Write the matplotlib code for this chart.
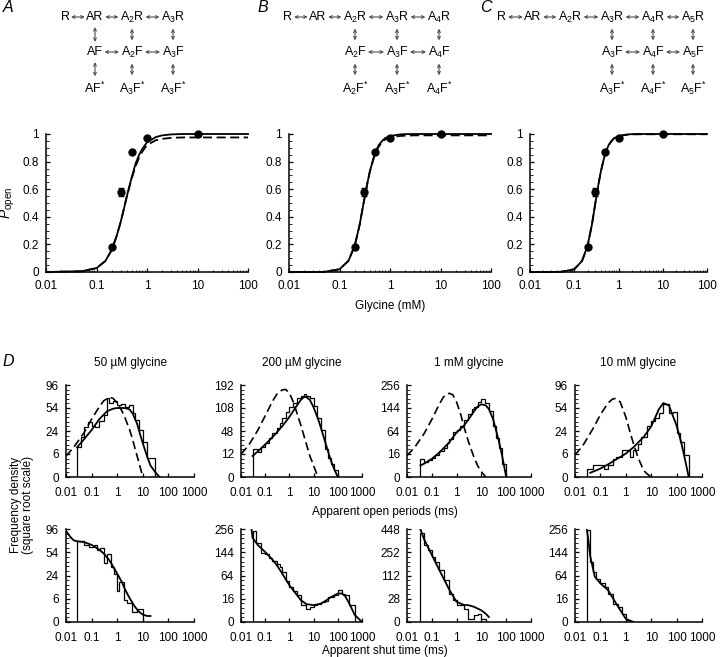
import numpy as np
import matplotlib
matplotlib.use('Agg')
import matplotlib.pyplot as plt
from matplotlib.ticker import FixedLocator, LogLocator, NullFormatter, MultipleLocator

plt.rcParams['font.family'] = ['Liberation Sans', 'DejaVu Sans']
plt.rcParams['font.size'] = 8
plt.rcParams['mathtext.fontset'] = 'custom'
plt.rcParams['mathtext.rm'] = 'Liberation Sans'
plt.rcParams['mathtext.it'] = 'Liberation Sans:italic'

# ---- reaction schemes (row labels) ----
schemeA_r1 = ['R', 'AR', 'A$_2$R', 'A$_3$R']
schemeA_r2 = ['AF', 'A$_2$F', 'A$_3$F']
schemeA_r3 = ['AF$^{*}$', 'A$_3$F$^{*}$', 'A$_3$F$^{*}$']
schemeB_r1 = ['R', 'AR', 'A$_2$R', 'A$_3$R', 'A$_4$R']
schemeB_r2 = ['A$_2$F', 'A$_3$F', 'A$_4$F']
schemeB_r3 = ['A$_2$F$^{*}$', 'A$_3$F$^{*}$', 'A$_4$F$^{*}$']
schemeC_r1 = ['R', 'AR', 'A$_2$R', 'A$_3$R', 'A$_4$R', 'A$_5$R']
schemeC_r2 = ['A$_3$F', 'A$_4$F', 'A$_5$F']
schemeC_r3 = ['A$_3$F$^{*}$', 'A$_4$F$^{*}$', 'A$_5$F$^{*}$']

# ---- concentration-response ----
glycine = [0.2, 0.3, 0.5, 1, 10]
popen = [0.18, 0.58, 0.87, 0.97, 1.0]
popen_err = [0, 0.03, 0, 0, 0]

fit_x = [0.01, 0.05, 0.1, 0.15, 0.2, 0.25, 0.3, 0.35, 0.4, 0.5, 0.6, 0.7, 0.8, 1, 1.5, 2, 3, 5, 10, 100]
fitA_solid = [0, 0.005, 0.028, 0.08, 0.16, 0.26, 0.36, 0.46, 0.55, 0.69, 0.79, 0.85, 0.89, 0.94, 0.978, 0.99, 0.997, 1.0, 1.0, 1.0]
fitA_dash = [0, 0.005, 0.028, 0.08, 0.16, 0.26, 0.36, 0.46, 0.55, 0.68, 0.77, 0.83, 0.87, 0.92, 0.955, 0.965, 0.972, 0.975, 0.975, 0.975]
fitB_solid = [0, 0.001, 0.02, 0.08, 0.19, 0.34, 0.50, 0.63, 0.73, 0.86, 0.92, 0.95, 0.97, 0.985, 0.996, 0.999, 1.0, 1.0, 1.0, 1.0]
fitB_dash = [0, 0.001, 0.02, 0.08, 0.19, 0.34, 0.50, 0.63, 0.73, 0.85, 0.91, 0.94, 0.96, 0.975, 0.985, 0.988, 0.99, 0.99, 0.99, 0.99]
fitC_solid = [0, 0.001, 0.02, 0.08, 0.19, 0.34, 0.50, 0.63, 0.73, 0.86, 0.92, 0.95, 0.97, 0.985, 0.996, 0.999, 1.0, 1.0, 1.0, 1.0]
fitC_dash = [0, 0.001, 0.02, 0.08, 0.19, 0.34, 0.50, 0.63, 0.73, 0.86, 0.92, 0.95, 0.97, 0.984, 0.994, 0.997, 0.998, 0.998, 0.998, 0.998]

# ---- dwell-time histograms ----
titles = ['50 \u00b5M glycine', '200 \u00b5M glycine', '1 mM glycine', '10 mM glycine']
open_yticks = [[0, 6, 24, 54, 96], [0, 12, 48, 108, 192], [0, 16, 64, 144, 256], [0, 6, 24, 54, 96]]
shut_yticks = [[0, 6, 24, 54, 96], [0, 16, 64, 144, 256], [0, 28, 112, 252, 448], [0, 16, 64, 144, 256]]

open_edges = [
    [0.027, 0.04, 0.05, 0.07, 0.1, 0.14, 0.2, 0.3, 0.4, 0.5, 0.7, 1, 1.4, 2, 3, 4, 5, 7, 10, 14, 20, 30],
    [0.03, 0.05, 0.07, 0.1, 0.14, 0.2, 0.3, 0.4, 0.5, 0.7, 1, 1.4, 2, 3, 4, 5, 7, 10, 14, 20, 30, 40, 50, 70, 100],
    [0.035, 0.05, 0.07, 0.1, 0.14, 0.2, 0.3, 0.4, 0.5, 0.7, 1, 1.4, 2, 3, 4, 5, 7, 10, 14, 20, 30, 40, 50, 70, 100],
    [0.029, 0.05, 0.07, 0.1, 0.14, 0.2, 0.3, 0.4, 0.5, 0.7, 1, 1.4, 2, 3, 4, 5, 7, 10, 14, 20, 30, 40, 50, 70, 100, 140, 200, 300],
]
open_counts = [
    [10, 18, 28, 34, 30, 28, 36, 43, 70, 62, 65, 58, 61, 56, 58, 46, 37, 25, 14, 4, 4],
    [18, 14, 20, 26, 34, 44, 54, 66, 78, 96, 110, 125, 140, 150, 158, 150, 140, 115, 80, 50, 18, 8, 4, 1],
    [10, 7, 9, 11, 14, 20, 26, 34, 44, 60, 68, 80, 100, 120, 140, 150, 168, 185, 165, 130, 80, 45, 25, 5],
    [0.8, 1.6, 1.6, 1.6, 0.8, 1.6, 3.5, 4.6, 4.6, 8, 8, 4.6, 8, 12, 18, 18, 30, 36, 40, 46, 60, 60, 46, 48, 22, 14, 5.4],
]
open_fit_x = [
    [0.027, 0.05, 0.1, 0.2, 0.4, 0.7, 1, 2, 3, 4, 6, 8, 10, 15, 20, 30, 45],
    [0.03, 0.05, 0.1, 0.2, 0.5, 1, 2, 3, 4, 5, 7, 10, 15, 20, 30, 50, 70, 100],
    [0.035, 0.05, 0.1, 0.2, 0.5, 1, 2, 3, 5, 7, 10, 15, 20, 30, 50, 70, 100],
    [0.04, 0.1, 0.2, 0.5, 1, 2, 5, 10, 20, 30, 50, 100, 150, 200, 300],
]
open_fit_y = [
    [10, 16, 25, 38, 49, 53, 54, 54, 52, 46, 32, 20, 13, 4.5, 1.5, 0.3, 0],
    [10, 15, 24, 36, 58, 82, 115, 135, 145, 145, 135, 110, 78, 55, 28, 7, 1.5, 0],
    [4, 5.5, 10, 18, 36, 60, 80, 100, 130, 150, 160, 155, 140, 100, 40, 12, 0],
    [0.2, 0.8, 1.8, 4, 6.2, 10, 18, 29, 52, 62, 58, 30, 14, 5, 0],
]
ideal_x = [
    [0.01, 0.02, 0.05, 0.1, 0.2, 0.3, 0.5, 0.7, 1, 1.5, 2, 3, 4, 5, 7, 10],
    [0.01, 0.02, 0.05, 0.1, 0.2, 0.3, 0.5, 0.7, 1, 1.5, 2, 3, 5, 7, 10, 15],
    [0.01, 0.02, 0.05, 0.1, 0.2, 0.3, 0.5, 0.7, 1, 1.5, 2, 3, 5, 7, 10, 15],
    [0.01, 0.02, 0.05, 0.1, 0.2, 0.3, 0.4, 0.6, 1, 1.5, 2, 3, 5, 7, 10],
]
ideal_y = [
    [5, 10, 22, 38, 56, 66, 72, 70, 62, 50, 40, 26, 16, 9, 2.5, 0],
    [12, 22, 50, 85, 130, 155, 172, 174, 160, 125, 95, 60, 25, 10, 3, 0],
    [14, 26, 58, 100, 160, 195, 212, 205, 170, 115, 75, 38, 12, 4, 0.8, 0],
    [5.5, 11, 26, 44, 62, 69, 70, 64, 41, 22, 12.7, 4.5, 0.5, 0.1, 0],
]

shut_edges = [
    [0.028, 0.05, 0.08, 0.12, 0.17, 0.22, 0.3, 0.4, 0.55, 0.73, 1, 1.2, 1.8, 2.4, 3.2, 3.7, 6, 10],
    [0.03, 0.04, 0.07, 0.1, 0.14, 0.2, 0.3, 0.4, 0.5, 0.7, 1, 1.4, 2, 3, 5, 7, 10, 14, 20, 30, 40, 70, 100, 150, 200, 300, 500],
    [0.033, 0.05, 0.07, 0.1, 0.14, 0.2, 0.3, 0.5, 0.7, 1, 2, 3, 5, 7, 10, 15],
    [0.029, 0.04, 0.05, 0.07, 0.1, 0.15, 0.2, 0.3, 0.5, 0.7, 1, 1.5],
]
shut_counts = [
    [72, 66, 62, 66, 58, 60, 38, 52, 34, 26, 11, 18, 5.3, 3.8, 3.8, 1.1, 2],
    [243, 184, 140, 135, 120, 110, 100, 90, 75, 50, 37, 28, 21, 8.4, 5.3, 7, 8.4, 10, 12, 13, 18, 21, 30, 24, 21, 8.4],
    [410, 309, 270, 222, 189, 140, 91, 42, 25, 14.6, 9.3, 0.6, 2.3, 3, 0.6],
    [253, 108, 75, 56, 44, 37, 24, 10, 6.8, 2, 0.1],
]
shut_fit_x = [
    [0.01, 0.015, 0.02, 0.03, 0.05, 0.1, 0.2, 0.3, 0.5, 1, 1.5, 2, 3, 5, 7, 10, 15, 20],
    [0.025, 0.03, 0.05, 0.1, 0.2, 0.3, 0.5, 1, 2, 3, 5, 10, 20, 30, 50, 100, 150, 200, 300, 500, 1000],
    [0.033, 0.05, 0.1, 0.2, 0.3, 0.5, 1, 2, 3, 5, 10, 15, 20],
    [0.029, 0.035, 0.04, 0.06, 0.1, 0.2, 0.5, 1, 2],
]
shut_fit_y = [
    [92, 80, 74, 72, 71, 66, 58, 52, 42, 26, 18, 12, 6.5, 2.5, 1.2, 0.6, 0.4, 0.4],
    [300, 210, 175, 145, 115, 96, 70, 40, 22, 14, 9.5, 8.4, 10, 13, 18, 24, 24, 20, 10, 1.5, 0],
    [460, 350, 233, 140, 98, 55, 21, 15, 14.6, 12, 7, 3.5, 1.3],
    [260, 180, 127, 61, 44, 30, 6.8, 0.3, 0],
]

W, H = 720, 657
fig = plt.figure(figsize=(7.2, 6.57), dpi=100)


def px_axes(x0, y0, x1, y1):
    return fig.add_axes([x0 / W, 1 - y1 / H, (x1 - x0) / W, (y1 - y0) / H])


def sqrt_fwd(y):
    return np.sqrt(np.clip(y, 0, None))


def sqrt_inv(y):
    return np.asarray(y) ** 2


# overlay for schemes and labels (pixel coordinates)
ov = fig.add_axes([0, 0, 1, 1])
ov.set_xlim(0, W)
ov.set_ylim(H, 0)
ov.axis('off')

schemes = [
    (schemeA_r1, schemeA_r2, schemeA_r3, [65, 95, 132, 173], 1),
    (schemeB_r1, schemeB_r2, schemeB_r3, [288, 318, 355, 397, 439], 2),
    (schemeC_r1, schemeC_r2, schemeC_r3, [502, 533, 570, 612, 653, 693], 3),
]
row_y = [17, 52, 88]
arrow_kw = dict(arrowstyle='<->,head_length=0.25,head_width=0.12', lw=0.8, color='0.3',
                shrinkA=0, shrinkB=0)
scheme_texts = []
for r1, r2, r3, xs, c0 in schemes:
    rows = []
    for ri, labels in enumerate([r1, r2, r3]):
        start = 0 if ri == 0 else c0
        ts = []
        for j, lab in enumerate(labels):
            ts.append(ov.text(xs[start + j], row_y[ri], lab, ha='center', va='center', fontsize=9))
        rows.append(ts)
    scheme_texts.append((rows, c0))

fig.canvas.draw()
inv = ov.transData.inverted()


def bbox_px(t):
    bb = t.get_window_extent()
    (xa, ya), (xb, yb) = inv.transform([(bb.x0, bb.y0), (bb.x1, bb.y1)])
    return min(xa, xb), max(xa, xb), min(ya, yb), max(ya, yb)


for rows, c0 in scheme_texts:
    for ri in (0, 1):
        ts = rows[ri]
        for a, b in zip(ts[:-1], ts[1:]):
            ba, bb = bbox_px(a), bbox_px(b)
            y = row_y[ri]
            ov.annotate('', xy=(ba[1] + 1.5, y), xytext=(bb[0] - 1.5, y), arrowprops=arrow_kw)
    for ri in (0, 1):
        upper = rows[ri][c0:] if ri == 0 else rows[1]
        lower = rows[ri + 1]
        for u, l in zip(upper, lower):
            bu, bl = bbox_px(u), bbox_px(l)
            x = (bu[0] + bu[1]) / 2
            ov.annotate('', xy=(x, bu[3] + 4), xytext=(x, bl[2] - 4), arrowprops=arrow_kw)

for lab, x, y in [('A', 8, 8), ('B', 263, 8), ('C', 486, 8), ('D', 8, 362)]:
    ov.text(x, y, lab, ha='center', va='center', fontsize=11.5, style='italic')


def style_axes(ax, xpad):
    for s in ['top', 'right']:
        ax.spines[s].set_visible(False)
    for s in ['left', 'bottom']:
        ax.spines[s].set_linewidth(1.1)
    ax.tick_params(which='major', direction='in', length=3, width=0.9, labelsize=8.5)
    ax.tick_params(axis='y', which='major', pad=5)
    ax.tick_params(axis='x', which='major', pad=xpad)
    ax.tick_params(which='minor', direction='in', length=1.8, width=0.6)


# ---- top panels ----
top_pos = [(46, 134, 248, 272), (289, 134, 491, 272), (530, 134, 707, 272)]
top_fits = [(fitA_solid, fitA_dash), (fitB_solid, fitB_dash), (fitC_solid, fitC_dash)]
for k, (pos, (fs, fd)) in enumerate(zip(top_pos, top_fits)):
    ax = px_axes(*pos)
    ax.set_xscale('log')
    ax.plot(fit_x, fd, 'k--', lw=1.3, dashes=(5, 2.5), clip_on=False)
    ax.plot(fit_x, fs, 'k-', lw=1.3, clip_on=False)
    ax.errorbar(glycine, popen, yerr=popen_err, fmt='o', color='k', ms=5,
                capsize=2, elinewidth=0.9, clip_on=False, zorder=5)
    ax.set_xlim(0.01, 100)
    ax.set_ylim(0, 1)
    ax.set_xticks([0.01, 0.1, 1, 10, 100])
    ax.set_xticklabels(['0.01', '0.1', '1', '10', '100'])
    ax.xaxis.set_minor_locator(LogLocator(base=10, subs=np.arange(2, 10)))
    ax.xaxis.set_minor_formatter(NullFormatter())
    ax.set_yticks([0, 0.2, 0.4, 0.6, 0.8, 1])
    ax.set_yticklabels(['0', '0.2', '0.4', '0.6', '0.8', '1'])
    ax.yaxis.set_minor_locator(MultipleLocator(0.05))
    style_axes(ax, 6)
    if k == 0:
        ax.set_ylabel('$P_{\\mathrm{open}}$', fontsize=10, labelpad=4)

ov.text(390, 306, 'Glycine (mM)', ha='center', va='center', fontsize=8.5)

# ---- histogram panels ----
hist_x = [(66, 194), (241, 362), (407, 531), (575, 702)]
row_pos = [(385, 477), (529, 622)]


def hist_panel(ax, edges, counts, fx, fy, yt, dx=None, dy=None):
    ax.set_xscale('log')
    ax.set_yscale('function', functions=(sqrt_fwd, sqrt_inv))
    ax.stairs(counts, edges, baseline=0, color='k', lw=0.9)
    if dx is not None:
        ax.plot(dx, dy, 'k--', lw=1.2, dashes=(5, 2.5))
    ax.plot(fx, fy, 'k-', lw=1.3)
    ax.set_xlim(0.01, 1000)
    ax.set_ylim(0, yt[-1])
    ax.set_xticks([0.01, 0.1, 1, 10, 100, 1000])
    ax.set_xticklabels(['0.01', '0.1', '1', '10', '100', '1000'])
    ax.xaxis.set_minor_locator(LogLocator(base=10, subs=np.arange(2, 10)))
    ax.xaxis.set_minor_formatter(NullFormatter())
    ax.set_yticks(yt)
    ax.set_yticklabels([str(v) for v in yt])
    step = np.sqrt(yt[-1]) / 4
    ax.yaxis.set_minor_locator(FixedLocator([(i * step / 5) ** 2 for i in range(21)]))
    style_axes(ax, 7)


for i in range(4):
    x0, x1 = hist_x[i]
    ax = px_axes(x0, row_pos[0][0], x1, row_pos[0][1])
    hist_panel(ax, open_edges[i], open_counts[i], open_fit_x[i], open_fit_y[i],
               open_yticks[i], ideal_x[i], ideal_y[i])
    ax.set_title(titles[i], fontsize=8.5, pad=14)
    ax = px_axes(x0, row_pos[1][0], x1, row_pos[1][1])
    hist_panel(ax, shut_edges[i], shut_counts[i], shut_fit_x[i], shut_fit_y[i], shut_yticks[i])

ov.text(385, 512, 'Apparent open periods (ms)', ha='center', va='center', fontsize=8.5)
ov.text(385, 651, 'Apparent shut time (ms)', ha='center', va='center', fontsize=8.5)
ov.text(22, 505, 'Frequency density\n(square root scale)', ha='center', va='center',
        rotation=90, fontsize=8.5, linespacing=1.1)

fig.savefig('out.png', dpi=100)
